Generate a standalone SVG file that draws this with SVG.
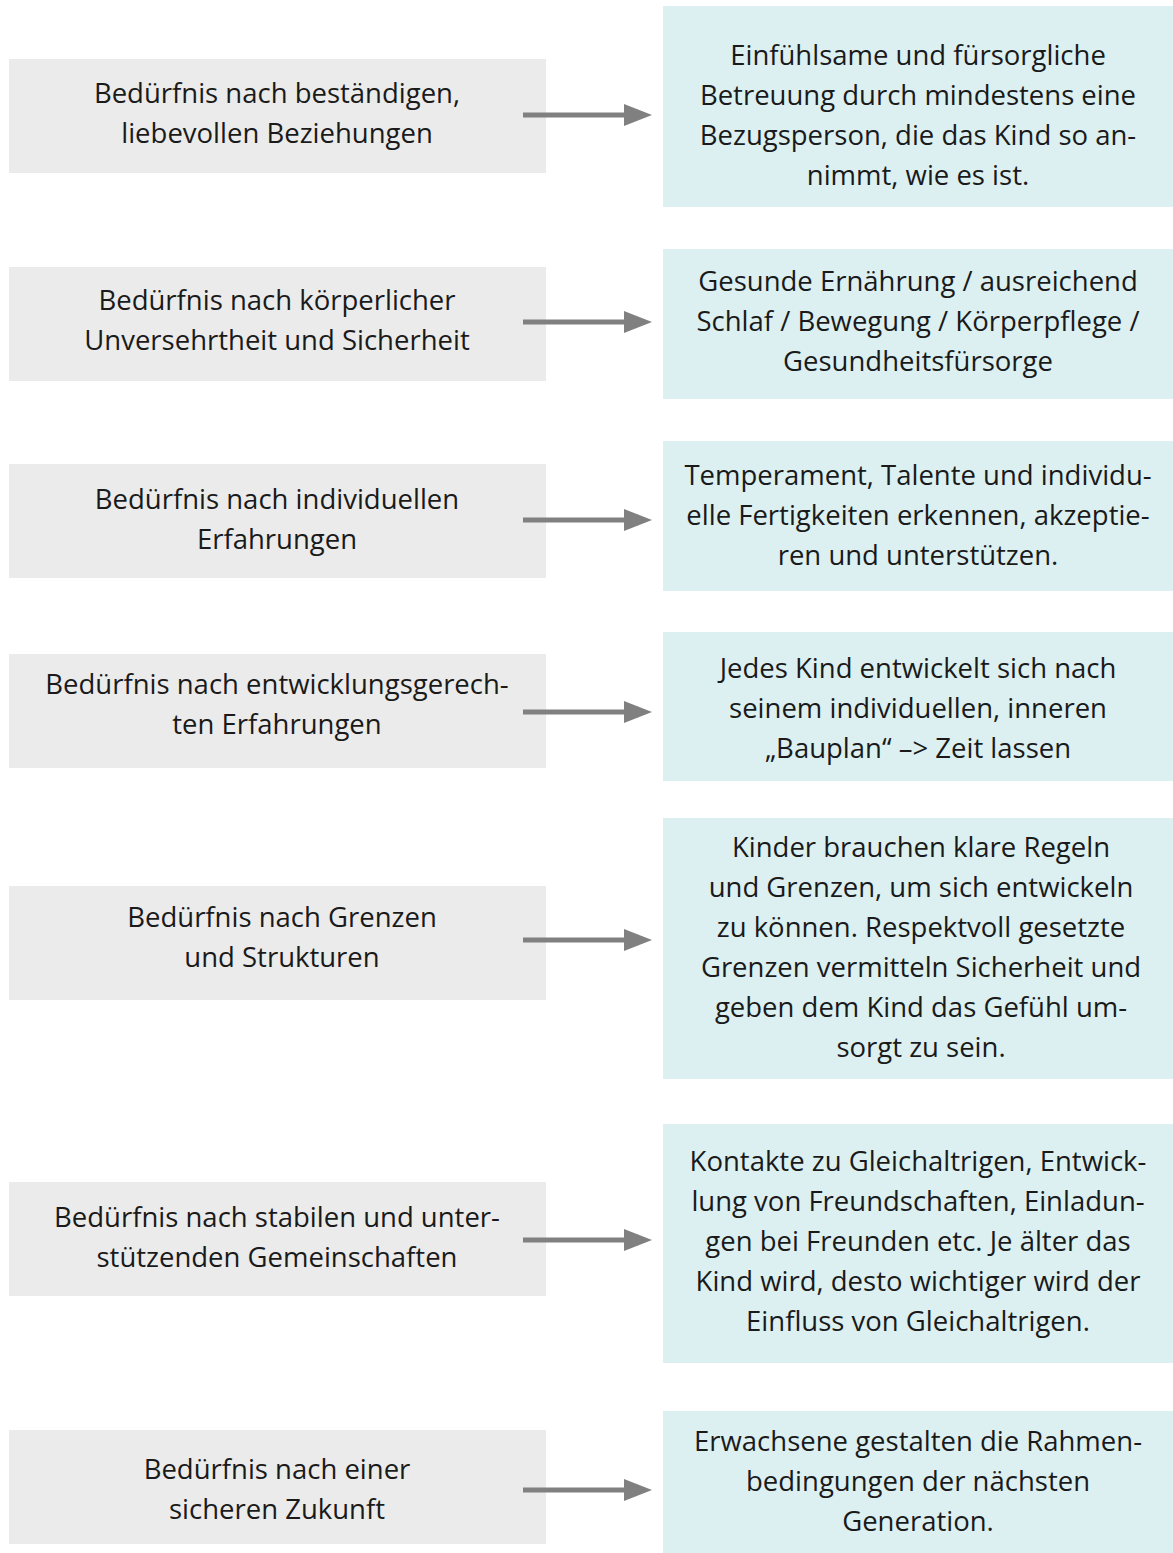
<svg xmlns="http://www.w3.org/2000/svg" width="1173" height="1553" viewBox="0 0 1173 1553">
<defs>
<style>
.l{fill:#ebebeb}
.r{fill:#dcf0f2}
text{font-family:"Open Sans","Noto Sans",sans-serif;font-size:27.5px;fill:#1a1a1a;text-anchor:middle;dominant-baseline:central}
.c line{stroke:#808080;stroke-width:5}
</style>
<marker id="ah" markerWidth="28" markerHeight="22" refX="0" refY="11" markerUnits="userSpaceOnUse" orient="auto">
<polygon points="0,0 28,11 0,22" fill="#808080"/>
</marker>
</defs>
<rect width="1173" height="1553" fill="#fff"/>
<g id="n1"><rect class="l" x="9" y="59" width="537" height="114"/><text x="277" y="92">Bedürfnis nach beständigen,</text><text x="277" y="132">liebevollen Beziehungen</text></g>
<g id="m1"><rect class="r" x="663" y="6" width="510" height="201"/><text x="918" y="54">Einfühlsame und fürsorgliche</text><text x="918" y="94">Betreuung durch mindestens eine</text><text x="918" y="134">Bezugsperson, die das Kind so an-</text><text x="918" y="174">nimmt, wie es ist.</text></g>
<g id="n2"><rect class="l" x="9" y="267" width="537" height="114"/><text x="277" y="299">Bedürfnis nach körperlicher</text><text x="277" y="339">Unversehrtheit und Sicherheit</text></g>
<g id="m2"><rect class="r" x="663" y="249" width="510" height="150"/><text x="918" y="280">Gesunde Ernährung / ausreichend</text><text x="918" y="320">Schlaf / Bewegung / Körperpflege /</text><text x="918" y="360">Gesundheitsfürsorge</text></g>
<g id="n3"><rect class="l" x="9" y="464" width="537" height="114"/><text x="277" y="498">Bedürfnis nach individuellen</text><text x="277" y="538">Erfahrungen</text></g>
<g id="m3"><rect class="r" x="663" y="441" width="510" height="150"/><text x="918" y="474">Temperament, Talente und individu-</text><text x="918" y="514">elle Fertigkeiten erkennen, akzeptie-</text><text x="918" y="554">ren und unterstützen.</text></g>
<g id="n4"><rect class="l" x="9" y="654" width="537" height="114"/><text x="277" y="683">Bedürfnis nach entwicklungsgerech-</text><text x="277" y="723">ten Erfahrungen</text></g>
<g id="m4"><rect class="r" x="663" y="632" width="510" height="149"/><text x="918" y="667">Jedes Kind entwickelt sich nach</text><text x="918" y="707">seinem individuellen, inneren</text><text x="918" y="747">„Bauplan“ –&gt; Zeit lassen</text></g>
<g id="n5"><rect class="l" x="9" y="886" width="537" height="114"/><text x="282" y="916">Bedürfnis nach Grenzen</text><text x="282" y="956">und Strukturen</text></g>
<g id="m5"><rect class="r" x="663" y="818" width="510" height="261"/><text x="921" y="846">Kinder brauchen klare Regeln</text><text x="921" y="886">und Grenzen, um sich entwickeln</text><text x="921" y="926">zu können. Respektvoll gesetzte</text><text x="921" y="966">Grenzen vermitteln Sicherheit und</text><text x="921" y="1006">geben dem Kind das Gefühl um-</text><text x="921" y="1046">sorgt zu sein.</text></g>
<g id="n6"><rect class="l" x="9" y="1182" width="537" height="114"/><text x="277" y="1216">Bedürfnis nach stabilen und unter-</text><text x="277" y="1256">stützenden Gemeinschaften</text></g>
<g id="m6"><rect class="r" x="663" y="1124" width="510" height="239"/><text x="918" y="1160">Kontakte zu Gleichaltrigen, Entwick-</text><text x="918" y="1200">lung von Freundschaften, Einladun-</text><text x="918" y="1240">gen bei Freunden etc. Je älter das</text><text x="918" y="1280">Kind wird, desto wichtiger wird der</text><text x="918" y="1320">Einfluss von Gleichaltrigen.</text></g>
<g id="n7"><rect class="l" x="9" y="1430" width="537" height="114"/><text x="277" y="1468">Bedürfnis nach einer</text><text x="277" y="1508">sicheren Zukunft</text></g>
<g id="m7"><rect class="r" x="663" y="1411" width="510" height="142"/><text x="918" y="1440">Erwachsene gestalten die Rahmen-</text><text x="918" y="1480">bedingungen der nächsten</text><text x="918" y="1520">Generation.</text></g>
<g class="c" id="connectors">
<line x1="523" y1="115" x2="624" y2="115" marker-end="url(#ah)"/>
<line x1="523" y1="322" x2="624" y2="322" marker-end="url(#ah)"/>
<line x1="523" y1="520" x2="624" y2="520" marker-end="url(#ah)"/>
<line x1="523" y1="712" x2="624" y2="712" marker-end="url(#ah)"/>
<line x1="523" y1="940" x2="624" y2="940" marker-end="url(#ah)"/>
<line x1="523" y1="1240" x2="624" y2="1240" marker-end="url(#ah)"/>
<line x1="523" y1="1490" x2="624" y2="1490" marker-end="url(#ah)"/>
</g>
</svg>
